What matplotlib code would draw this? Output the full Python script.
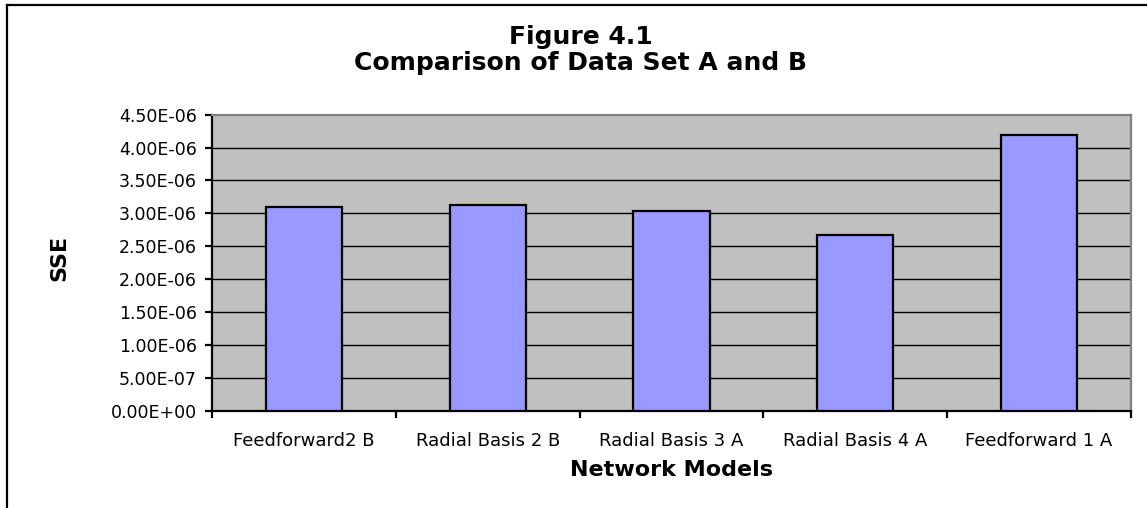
import numpy as np
import matplotlib
matplotlib.use("Agg")
import matplotlib.pyplot as plt
from matplotlib.lines import Line2D
from matplotlib.ticker import FixedLocator

plt.rcParams['font.family'] = ['DejaVu Sans']

models = ["Feedforward2 B", "Radial Basis 2 B", "Radial Basis 3 A",
          "Radial Basis 4 A", "Feedforward 1 A"]
sse = [3.10e-06, 3.13e-06, 3.03e-06, 2.67e-06, 4.19e-06]
yticks = np.arange(0, 4.51e-06, 0.5e-06)

W, H = 1147, 508
fig = plt.figure(figsize=(W / 100, H / 100), dpi=100, facecolor="white")
ax = fig.add_axes([212 / W, 1 - 410.7 / H, (1131 - 212) / W, (410.7 - 114.7) / H])
ax.set_facecolor("#C0C0C0")

x = np.arange(len(models))
ax.bar(x, sse, width=0.415, color="#9999FF", edgecolor="black", linewidth=1.6, zorder=3)

ax.set_xlim(-0.5, len(models) - 0.5)
ax.set_ylim(0, 4.5e-06)

ax.set_yticks(yticks)
ax.set_yticklabels([f"{v:.2E}" for v in yticks], fontsize=12.5)
for v in yticks[1:-1]:
    ax.axhline(v, color="black", linewidth=1.0, zorder=1)

# category boundaries get the tick marks, names sit in between
ax.xaxis.set_major_locator(FixedLocator(np.arange(-0.5, len(models), 1.0)))
ax.set_xticklabels([])
ax.xaxis.set_minor_locator(FixedLocator(x))
ax.set_xticklabels(models, minor=True, fontsize=13)
ax.tick_params(axis="x", which="minor", length=0, pad=15)
ax.tick_params(axis="x", which="major", length=5, width=1.6, direction="out")
ax.tick_params(axis="y", length=5, width=1.6, direction="out", pad=6)

for s in ["left", "bottom"]:
    ax.spines[s].set_color("black")
    ax.spines[s].set_linewidth(1.6)
for s in ["top", "right"]:
    ax.spines[s].set_color("#808080")
    ax.spines[s].set_linewidth(1.6)

fig.text(581 / W, 1 - 37 / H, "Figure 4.1", ha="center", va="center",
         fontsize=18, fontweight="bold")
fig.text(581 / W, 1 - 63 / H, "Comparison of Data Set A and B", ha="center", va="center",
         fontsize=18, fontweight="bold")
fig.text(671 / W, 1 - 470 / H, "Network Models", ha="center", va="center",
         fontsize=16, fontweight="bold")
fig.text(59 / W, 1 - 258 / H, "SSE", ha="center", va="center", rotation=90,
         fontsize=16, fontweight="bold")

# chart area frame (left and top edges)
fig.add_artist(Line2D([7 / W, 7 / W], [0, 1 - 5 / H], color="black", linewidth=1.6,
                      transform=fig.transFigure))
fig.add_artist(Line2D([7 / W, 1], [1 - 5 / H, 1 - 5 / H], color="black", linewidth=1.6,
                      transform=fig.transFigure))

fig.savefig("out.png", dpi=100)
